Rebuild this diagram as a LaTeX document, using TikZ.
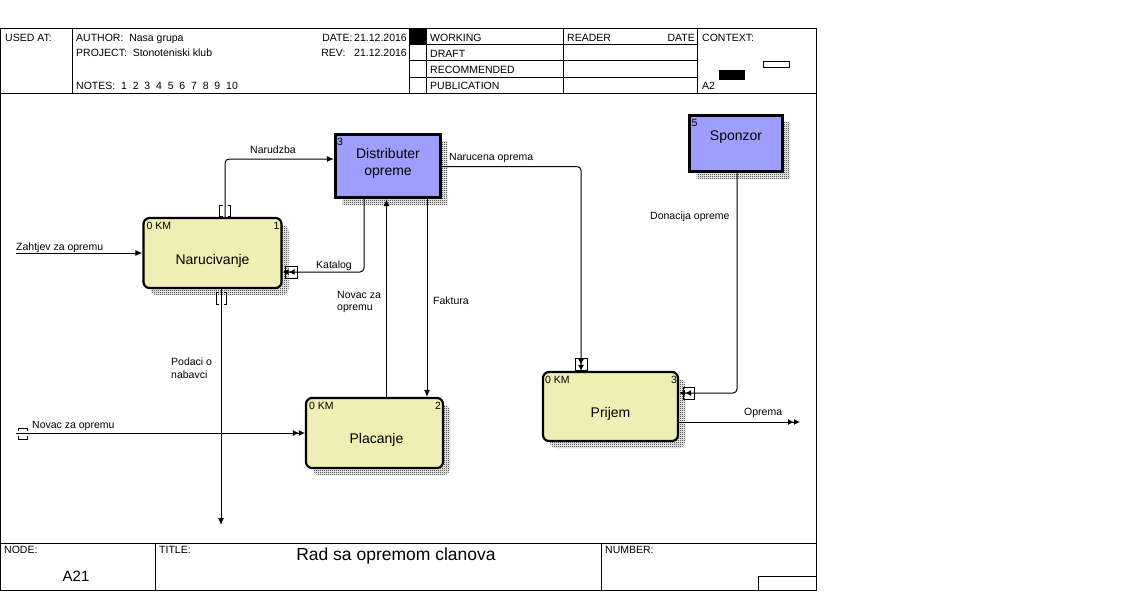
\documentclass[tikz,border=0pt]{standalone}
\usepackage{fontspec}
\setmainfont{Liberation Sans}
\usetikzlibrary{arrows.meta,patterns,shadows}
\definecolor{actyellow}{RGB}{240,238,180}
\definecolor{extblue}{RGB}{158,158,255}
\pgfdeclarepatternformonly{checker}{\pgfqpoint{0pt}{0pt}}{\pgfqpoint{2pt}{2pt}}{\pgfqpoint{2pt}{2pt}}{%
  \pgfpathrectangle{\pgfqpoint{0pt}{0pt}}{\pgfqpoint{1pt}{1pt}}%
  \pgfpathrectangle{\pgfqpoint{1pt}{1pt}}{\pgfqpoint{1pt}{1pt}}%
  \pgfusepath{fill}}
\tikzset{
  frame/.style = {draw=black, line width=1pt},
  lbl/.style = {inner sep=0pt, anchor=base west, font=\fontsize{10.5}{12.5}\selectfont},
  tag/.style = {inner sep=0pt, font=\fontsize{10.5}{12.5}\selectfont},
  btxt/.style = {inner sep=0pt, align=center, font=\fontsize{14}{17}\selectfont},
  hatch/.style = {general shadow={shadow xshift=7pt, shadow yshift=-7pt, pattern=checker}},
  abox/.style = {rectangle, rounded corners=6pt, draw=black, line width=2.2pt, fill=actyellow, hatch},
  ebox/.style = {rectangle, draw=black, line width=3.2pt, fill=extblue, hatch},
  flow/.style = {draw=black, line width=1pt, rounded corners=4pt, -{Latex[length=7pt,width=6pt]}},
  flow2/.style = {flow, -{Latex[length=6pt,width=6pt]Latex[length=6pt,width=6pt]}},
  tun/.style = {draw=black, line width=1pt}
}
\begin{document}
\begin{tikzpicture}[x=1pt,y=-1pt]
\useasboundingbox (0,0) rectangle (1127,597);

\draw[frame] (0,28) rectangle (816,590);
\draw[frame] (0,93) -- (816,93) (0,543) -- (816,543);
\draw[frame] (72,28) -- (72,93) (409,28) -- (409,93) (426,28) -- (426,93)
  (563,28) -- (563,93) (697,28) -- (697,93);
\draw[frame] (409,44) -- (697,44) (409,60) -- (697,60) (409,77) -- (697,77);
\fill (409,28) rectangle (426,44);
\draw[frame] (763,61) rectangle (789,67);
\fill (719,70) rectangle (745,80);
\draw[frame] (155,543) -- (155,590) (601,543) -- (601,590);
\draw[frame] (758,576) rectangle (816,590);

\node[lbl] (usedat) at (5,41) {USED AT:};
\node[lbl] (author) at (76,41) {AUTHOR:\ \ Nasa grupa};
\node[lbl] (project) at (76,56) {PROJECT:\ \ Stonoteniski klub};
\node[lbl] (notes) at (76,89) {NOTES:\ \ 1\ \ 2\ \ 3\ \ 4\ \ 5\ \ 6\ \ 7\ \ 8\ \ 9\ \ 10};
\node[lbl, anchor=base east] (date) at (407,41) {DATE:\,21.12.2016};
\node[lbl, anchor=base east] (rev) at (407,56) {REV:\ \ \ 21.12.2016};
\node[lbl] (working) at (430,41) {WORKING};
\node[lbl] (draft) at (430,57) {DRAFT};
\node[lbl] (recomm) at (430,73) {RECOMMENDED};
\node[lbl] (public) at (430,89) {PUBLICATION};
\node[lbl] (reader) at (567,41) {READER};
\node[lbl, anchor=base east] (rdate) at (695,41) {DATE};
\node[lbl] (context) at (702,41) {CONTEXT:};
\node[lbl] (ctxa) at (702,89) {A2};
\node[lbl] (nodelbl) at (4,553) {NODE:};
\node[lbl, font=\fontsize{15}{18}\selectfont, anchor=base] (nodeid) at (76,581) {A21};
\node[lbl] (titlelbl) at (159,553) {TITLE:};
\node[lbl, font=\fontsize{17.5}{21}\selectfont, anchor=base] (title) at (396,560) {Rad sa opremom clanova};
\node[lbl] (numlbl) at (605,553) {NUMBER:};

\node[abox, minimum width=138pt, minimum height=70pt] (nar) at (212.5,253) {};
\node[abox, minimum width=137pt, minimum height=70pt] (plac) at (374.5,433) {};
\node[abox, minimum width=135pt, minimum height=69pt] (prij) at (610.5,406.5) {};
\node[ebox, minimum width=105pt, minimum height=63pt] (dist) at (388,166) {};
\node[ebox, minimum width=93pt, minimum height=56pt] (spon) at (736,143.5) {};

\node[btxt] (nartxt) at ([yshift=-8pt]nar.center) {Narucivanje};
\node[btxt] (plactxt) at ([xshift=2pt,yshift=-7pt]plac.center) {Placanje};
\node[btxt] (prijtxt) at ([yshift=-7.5pt]prij.center) {Prijem};
\node[btxt] (disttxt) at ([yshift=3pt]dist.center) {Distributer\\opreme};
\node[btxt] (spontxt) at ([yshift=6pt]spon.center) {Sponzor};

\node[tag, anchor=north west] (narkm) at ([xshift=4pt,yshift=-5pt]nar.north west) {0 KM};
\node[tag, anchor=north east] (narno) at ([xshift=-3pt,yshift=-5pt]nar.north east) {1};
\node[tag, anchor=north west] (plackm) at ([xshift=4pt,yshift=-5pt]plac.north west) {0 KM};
\node[tag, anchor=north east] (placno) at ([xshift=-3pt,yshift=-5pt]plac.north east) {2};
\node[tag, anchor=north west] (prijkm) at ([xshift=3pt,yshift=-5pt]prij.north west) {0 KM};
\node[tag, anchor=north east] (prijno) at ([xshift=-2pt,yshift=-5pt]prij.north east) {3};
\node[tag, anchor=north west] (distno) at ([xshift=3pt,yshift=-5pt]dist.north west) {3};
\node[tag, anchor=north west] (sponno) at ([xshift=3.5pt,yshift=-5pt]spon.north west) {5};

\coordinate (zin) at (16,253);
\coordinate (nbend) at (225,159);
\coordinate (kbend) at (364,272);
\coordinate (nv) at (386.5,300);
\coordinate (fk) at (427,300);
\coordinate (nc) at (581,166.5);
\coordinate (dn) at (737,393);
\coordinate (oout) at (800,422);
\coordinate (nin) at (16,433);
\coordinate (pout) at (221,525);

\draw[flow] (zin) -- (zin -| nar.west);
\draw[flow] (nar.north -| nbend) |- (dist.west |- nbend);
\draw[flow2] (dist.south -| kbend) |- (nar.east |- kbend);
\draw[flow] (plac.north -| nv) -- (dist.south -| nv);
\draw[flow] (dist.south -| fk) -- (plac.north -| fk);
\draw[flow2] (dist.east |- nc) -| (prij.north -| nc);
\draw[flow2] (spon.south -| dn) |- (prij.east |- dn);
\draw[flow2] (prij.east |- oout) -- (oout);
\draw[flow2] (nin) -- (nin -| plac.west);
\draw[flow] (nar.south -| pout) -- (pout);

\draw[tun] (222.5,205) -- (219.5,205) -- (219.5,216) -- (222.5,216)
  (227.5,205) -- (230.5,205) -- (230.5,216) -- (227.5,216);
\draw[tun] (218.5,292) -- (216,292) -- (216,304) -- (218.5,304)
  (223.5,292) -- (226,292) -- (226,304) -- (223.5,304);
\draw[tun] (18,431) -- (18,428) -- (27,428) -- (27,431)
  (18,436) -- (18,439) -- (27,439) -- (27,436);
\draw[tun] (285,266) rectangle (297,278);
\draw[tun] (575,358) rectangle (587,370);
\draw[tun] (683,387) rectangle (694,399);

\node[lbl] (zahtjev) at (16,250) {Zahtjev za opremu};
\node[lbl] (narudzba) at (250,153) {Narudzba};
\node[lbl] (katalog) at (316,268) {Katalog};
\node[lbl, anchor=north west, align=left] (novac) at (337,291) {Novac za\\opremu};
\node[lbl] (faktura) at (433,304) {Faktura};
\node[lbl] (narucena) at (449,160) {Narucena oprema};
\node[lbl] (donacija) at (650,219) {Donacija opreme};
\node[lbl] (oprema) at (744,415) {Oprema};
\node[lbl] (novacin) at (32,428) {Novac za opremu};
\node[lbl, anchor=north west, align=left] (podaci) at (171,358) {Podaci o\\nabavci};
\end{tikzpicture}
\end{document}
